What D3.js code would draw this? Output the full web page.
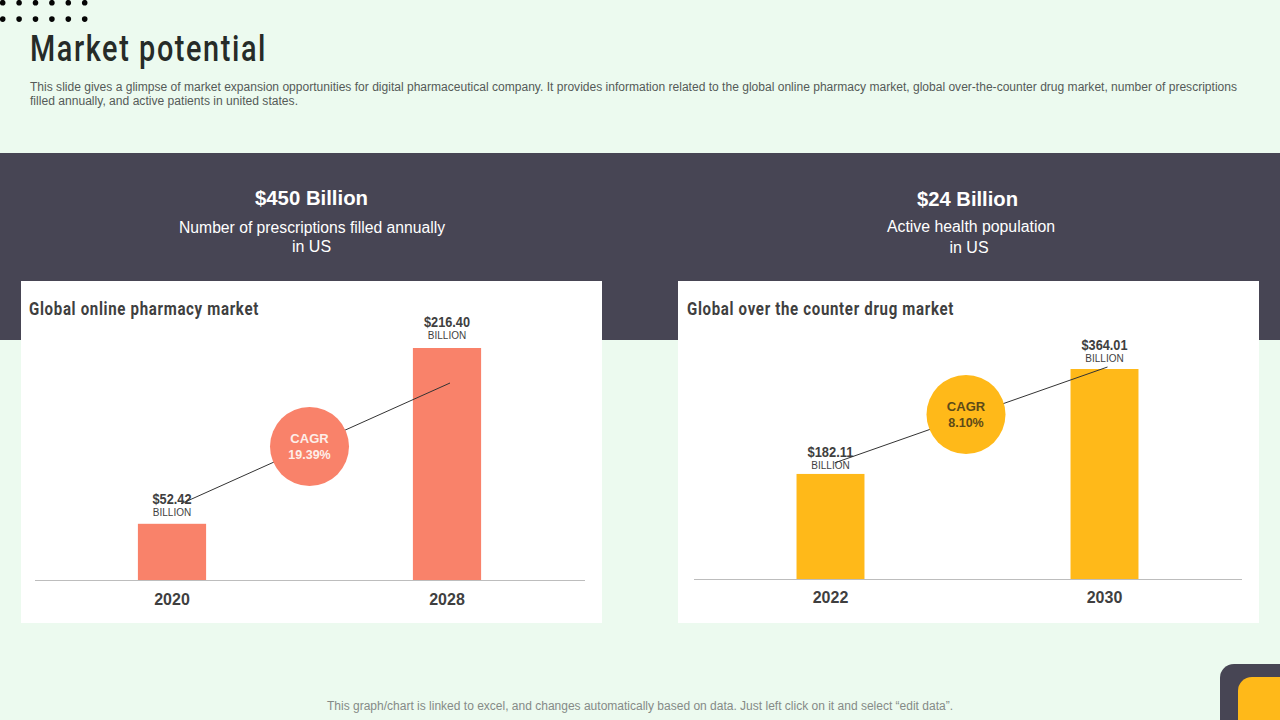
<!DOCTYPE html>
<html>
<head>
<meta charset="utf-8">
<script src="https://cdnjs.cloudflare.com/ajax/libs/d3/7.8.5/d3.min.js"></script>
<style>
  html, body { margin: 0; padding: 0; background: #ecfaef; overflow: hidden; }
  svg { display: block; }
  text { font-family: "Liberation Sans", Arial, sans-serif; }
  .din { font-family: "Roboto", sans-serif; }
  .axis text { font-family: "Liberation Sans", Arial, sans-serif; font-size: 16px; font-weight: 700; fill: #3f3f3f; }
</style>
</head>
<body>
<div id="chart"></div>
<script>
// values
var leftYears = ["2020", "2028"];
var leftValues = [52.42, 216.40];
var leftLabels = ["$52.42", "$216.40"];
var rightYears = ["2022", "2030"];
var rightValues = [182.11, 364.01];
var rightLabels = ["$182.11", "$364.01"];

var width = 1280, height = 720;
var coral = "#f9826a", yellow = "#ffb919", dark = "#474554", ink = "#3f3f3f";

var svg = d3.select("#chart").append("svg")
  .attr("width", width)
  .attr("height", height);

// background + dark band
svg.append("rect").attr("width", width).attr("height", height).attr("fill", "#ecfaef");
svg.append("rect").attr("y", 153).attr("width", width).attr("height", 187).attr("fill", dark);

// dots top left
var dotCols = d3.range(6), dotRows = d3.range(2);
dotRows.forEach(function(r) {
  svg.selectAll(null).data(dotCols).enter().append("circle")
    .attr("cx", d => 2.7 + d * 16.4)
    .attr("cy", 2.7 + r * 16.4)
    .attr("r", 2.8)
    .attr("fill", "#050505");
});

// title and intro
svg.append("text").attr("class", "din")
  .attr("x", 30).attr("y", 61)
  .attr("font-size", 36)
  .attr("font-weight", 500)
  .attr("letter-spacing", "2px")
  .attr("textLength", 237).attr("lengthAdjust", "spacingAndGlyphs")
  .attr("fill", "#262b28")
  .text("Market potential");

svg.append("text")
  .attr("x", 30).attr("y", 91)
  .attr("font-size", 12)
  .attr("textLength", 1207).attr("lengthAdjust", "spacingAndGlyphs")
  .attr("fill", "#555a58")
  .text("This slide gives a glimpse of market expansion opportunities for digital pharmaceutical company. It provides information related to the global online pharmacy market, global over-the-counter drug market, number of prescriptions");
svg.append("text")
  .attr("x", 30).attr("y", 105)
  .attr("font-size", 12)
  .attr("textLength", 268).attr("lengthAdjust", "spacingAndGlyphs")
  .attr("fill", "#555a58")
  .text("filled annually, and active patients in united states.");

// headline stats in the dark band
function stat(cx, head, headY, headLen, line1, y1, len1, cx1, line2, y2, cx2) {
  svg.append("text").attr("x", cx - headLen / 2).attr("y", headY)
    .attr("font-size", 20).attr("font-weight", 700)
    .attr("textLength", headLen).attr("lengthAdjust", "spacingAndGlyphs")
    .attr("fill", "#fff").text(head);
  svg.append("text").attr("x", cx1 - len1 / 2).attr("y", y1)
    .attr("font-size", 16)
    .attr("textLength", len1).attr("lengthAdjust", "spacingAndGlyphs")
    .attr("fill", "#fff").text(line1);
  svg.append("text").attr("x", cx2).attr("y", y2)
    .attr("text-anchor", "middle").attr("font-size", 16)
    .attr("fill", "#fff").text(line2);
}
stat(311.5, "$450 Billion", 205, 113, "Number of prescriptions filled annually", 233, 266, 312, "in US", 252, 311.5);
stat(967.5, "$24 Billion", 206, 101, "Active health population", 232, 168, 971, "in US", 253, 969);

// one card: white panel, bars, labels, cagr bubble
function card(o) {
  svg.append("rect")
    .attr("x", o.left).attr("y", 281)
    .attr("width", 581).attr("height", 342)
    .attr("fill", "#fff");

  svg.append("text").attr("class", "din")
    .attr("x", o.left + o.titleDx).attr("y", 315)
    .attr("font-size", 18)
    .attr("font-weight", 700)
    .attr("letter-spacing", "0.8px")
    .attr("textLength", o.titleLen).attr("lengthAdjust", "spacingAndGlyphs")
    .attr("fill", ink)
    .text(o.title);

  var x = d3.scaleBand()
    .domain(o.years)
    .range(o.xRange)
    .paddingInner(0.752)
    .paddingOuter(0.376);

  var y = d3.scaleLinear()
    .domain([0, d3.max(o.values)])
    .range([o.base, o.top]);

  var g = svg.append("g");

  g.selectAll("rect").data(o.values).enter().append("rect")
    .attr("x", (d, i) => x(o.years[i]))
    .attr("y", d => y(d))
    .attr("width", x.bandwidth())
    .attr("height", d => y(0) - y(d))
    .attr("fill", o.color);

  var axis = g.append("g")
    .attr("class", "axis")
    .attr("transform", `translate(0, ${o.base})`)
    .call(d3.axisBottom(x).tickSize(0).tickPadding(o.tickPad));
  axis.select("path").attr("stroke", "#bdbdbd");

  // value labels above the bars
  g.selectAll(".val").data(o.values).enter().append("text")
    .attr("class", "val")
    .attr("x", (d, i) => x(o.years[i]) + x.bandwidth() / 2 - (o.labels[i].length > 6 ? 23 : 19.5))
    .attr("y", (d, i) => y(d) - 20 + o.labelDy[i])
    .attr("font-size", 14)
    .attr("font-weight", 700)
    .attr("textLength", (d, i) => o.labels[i].length > 6 ? 46 : 39)
    .attr("lengthAdjust", "spacingAndGlyphs")
    .attr("fill", ink)
    .text((d, i) => o.labels[i]);

  g.selectAll(".unit").data(o.values).enter().append("text")
    .attr("x", (d, i) => x(o.years[i]) + x.bandwidth() / 2)
    .attr("y", (d, i) => y(d) - 8 + o.labelDy[i])
    .attr("text-anchor", "middle")
    .attr("font-size", 10)
    .attr("fill", ink)
    .text("BILLION");

  // cagr line and bubble
  var c0 = x(o.years[0]) + x.bandwidth() / 2, c1 = x(o.years[1]) + x.bandwidth() / 2;
  g.append("line")
    .attr("x1", c0 + o.lineFrom[0]).attr("y1", y(o.values[0]) + o.lineFrom[1])
    .attr("x2", c1 + o.lineTo[0]).attr("y2", y(o.values[1]) + o.lineTo[1])
    .attr("stroke", "#333").attr("stroke-width", 1);

  var cx = (c0 + c1) / 2 + o.bubbleDx;
  g.append("circle")
    .attr("cx", cx).attr("cy", o.bubbleY).attr("r", 39.5)
    .attr("fill", o.color);
  g.append("text").attr("x", cx).attr("y", o.bubbleY + o.cagrDy)
    .attr("text-anchor", "middle").attr("font-size", 13).attr("font-weight", 700)
    .attr("fill", o.bubbleText).text("CAGR");
  g.append("text").attr("x", cx).attr("y", o.bubbleY + o.cagrDy + 16)
    .attr("text-anchor", "middle").attr("font-size", 12.5).attr("font-weight", 700)
    .attr("fill", o.bubbleText).text(o.cagr);
}

card({
  left: 21, title: "Global online pharmacy market", titleDx: 8, titleLen: 230,
  years: leftYears, values: leftValues, labels: leftLabels, labelDy: [0, -1],
  xRange: [34.5, 584.5], base: 580, top: 348, tickPad: 14,
  color: coral, bubbleText: "#fdeee8", cagr: "19.39%",
  lineFrom: [9, -20], lineTo: [3, 35], bubbleDx: 0, bubbleY: 446.5, cagrDy: -4
});

card({
  left: 678, title: "Global over the counter drug market", titleDx: 9, titleLen: 267,
  years: rightYears, values: rightValues, labels: rightLabels, labelDy: [3, 1],
  xRange: [693.5, 1241.5], base: 579, top: 369, tickPad: 13,
  color: yellow, bubbleText: "#5d4a18", cagr: "8.10%",
  lineFrom: [4, -11], lineTo: [3, -2], bubbleDx: -1.5, bubbleY: 414.5, cagrDy: -4
});

// bottom note and corner badge
svg.append("text")
  .attr("x", 327).attr("y", 710)
  .attr("font-size", 12)
  .attr("textLength", 626).attr("lengthAdjust", "spacingAndGlyphs")
  .attr("fill", "#858a87")
  .text("This graph/chart is linked to excel,  and changes automatically based on data. Just left click on it and select “edit data”.");

svg.append("rect").attr("x", 1220).attr("y", 664).attr("width", 90).attr("height", 90).attr("rx", 14).attr("fill", dark);
svg.append("rect").attr("x", 1238).attr("y", 677).attr("width", 70).attr("height", 70).attr("rx", 14).attr("fill", yellow);
</script>
</body>
</html>
